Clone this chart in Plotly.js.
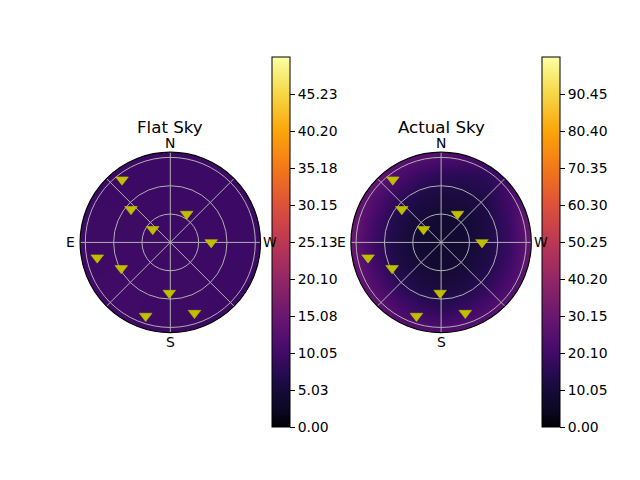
<!DOCTYPE html>
<html><head><meta charset="utf-8">
<script src="https://cdn.plot.ly/plotly-3.0.1.min.js"></script>
<style>html,body{margin:0;padding:0;background:#fff}</style>
</head><body><div id="chart" style="width:640px;height:480px"></div>
<script>
// ---- data ----
const starAzimuth = [37.6, 49.9, 53.3, 330, 270, 101.8, 117.9, 178.9, 161.5, 198.9]; // deg, N=0, E=90
const starZenith  = [83.8, 54.4, 23.2, 34.7, 43.3, 79.0, 58.7, 53.6, 82.2, 79.1];   // deg
const gridAngles = [0, 45, 90, 135, 180, 225, 270, 315];
const compassAngles = [0, 90, 180, 270];
const compassLabels = ['N', 'E', 'S', 'W'];
const zenithRings = [30, 60, 90];
const radialMax = 95.5;

// sky maps sampled on a grid (x: E(-1) .. W(+1), y: S(-1) .. N(+1)), rows from bottom to top
const flatGridX = [-1, -0.5, 0, 0.5, 1];
const flatGridY = [-1, -0.5, 0, 0.5, 1];
const flatSky = [
  [9.8, 9.8, 9.6, 9.5, 9.5],
  [9.8, 10.0, 9.6, 9.5, 9.5],
  [9.6, 9.6, 9.5, 9.5, 9.5],
  [9.5, 9.5, 9.5, 9.5, 9.5],
  [9.5, 9.5, 9.5, 9.5, 9.5]
];
const actualGridX = [-1, -0.75, -0.5, -0.25, 0, 0.25, 0.5, 0.75, 1];
const actualGridY = [-1, -0.75, -0.5, -0.25, 0, 0.25, 0.5, 0.75, 1];
const actualSky = [
  [32, 31, 28, 26, 24.6, 26.5, 28, 30, 31],
  [32, 30, 22.8, 18.2, 15.8, 18.2, 22.8, 28.8, 30],
  [32, 24.3, 17, 12.4, 11, 12.4, 16.5, 23, 29],
  [31, 20.5, 13.1, 10, 8.2, 9.9, 12.8, 19.6, 29.5],
  [30, 18.5, 12.3, 8.6, 7, 8.5, 12, 18, 29],
  [31, 20.5, 13.2, 10, 8.2, 9.1, 12.1, 18.7, 31],
  [32, 24.3, 17, 12.4, 11, 11.2, 13, 20.6, 28],
  [32, 30, 23, 18.2, 15.8, 15, 16, 21, 26],
  [32, 30, 28, 27, 24.6, 23.6, 24.5, 24, 25]
];
const flatMax = 50.25;
const actualMax = 100.5;
const flatTickText = ['0.00', '5.03', '10.05', '15.08', '20.10', '25.13', '30.15', '35.18', '40.20', '45.23'];
const actualTickText = ['0.00', '10.05', '20.10', '30.15', '40.20', '50.25', '60.30', '70.35', '80.40', '90.45'];
const titles = ['Flat Sky', 'Actual Sky'];

// ---- styling ----
const inferno = [
  [0.00, '#000004'], [0.05, '#0c0826'], [0.10, '#160b39'], [0.15, '#280b54'],
  [0.20, '#420a68'], [0.25, '#56106e'], [0.30, '#6a176e'], [0.40, '#932667'],
  [0.50, '#bc3754'], [0.60, '#dd513a'], [0.70, '#f37819'], [0.80, '#fca50a'],
  [0.90, '#f6d746'], [1.00, '#fcffa4']
];
const W = 640, H = 480;
const FONT = 'DejaVu Sans, Liberation Sans, sans-serif';
const boxes = [{x0: 80.1, x1: 260.5}, {x0: 350.9, x1: 531.3}];
const yTop = 152.2, yBot = 332.6;
const R = (yBot - yTop) / 2;
const labelGap = 9.4;
const cbLeft = [271.5, 541.5];
const cbTop = 57.5, cbBottom = 427.3;

function dom(i) {
  return {x: [boxes[i].x0 / W, boxes[i].x1 / W], y: [(H - yBot) / H, (H - yTop) / H]};
}
function polarCfg(i) {
  return {
    domain: dom(i),
    bgcolor: 'rgba(0,0,0,0)',
    radialaxis: {range: [0, radialMax], tickmode: 'array', tickvals: zenithRings, showticklabels: false,
      ticks: '', showline: false, gridcolor: '#b0b0b0', gridwidth: 1},
    angularaxis: {rotation: 90, direction: 'counterclockwise', tickmode: 'array',
      tickvals: gridAngles, showticklabels: false, ticks: '', showline: false,
      gridcolor: '#b0b0b0', gridwidth: 1}
  };
}
function cb(i, ticktext) {
  return {
    x: cbLeft[i] / W, xanchor: 'left', xpad: 0,
    y: (H - cbBottom) / H, yanchor: 'bottom', ypad: 0,
    len: cbBottom - cbTop, lenmode: 'pixels', thickness: 18, thicknessmode: 'pixels',
    outlinecolor: '#000', outlinewidth: 1,
    tickmode: 'array', tickvals: ticktext.map(Number), ticktext: ticktext,
    ticks: 'outside', ticklen: 5, tickwidth: 1, tickcolor: '#000',
    tickfont: {family: FONT, size: 13.9, color: '#000'}
  };
}
// white mask (in subplot-domain units) hiding the heatmap outside the sky circle
function maskPath() {
  const e = 0.015;
  let p = `M${-e},${-e} L${1 + e},${-e} L${1 + e},${1 + e} L${-e},${1 + e} Z M1,0.5`;
  const n = 240;
  for (let k = 1; k <= n; k++) {
    const a = -2 * Math.PI * k / n;
    p += ' L' + (0.5 + 0.5 * Math.cos(a)).toFixed(5) + ',' + (0.5 + 0.5 * Math.sin(a)).toFixed(5);
  }
  return p + ' Z';
}

const starMarker = {symbol: 'triangle-down', size: 11, color: '#bfbf00', line: {width: 0.6, color: '#bfbf00'}};
const traces = [
  {type: 'heatmap', x: flatGridX, y: flatGridY, z: flatSky, xaxis: 'x', yaxis: 'y',
   zmin: 0, zmax: flatMax, colorscale: inferno, zsmooth: 'best', colorbar: cb(0, flatTickText), hoverinfo: 'skip'},
  {type: 'heatmap', x: actualGridX, y: actualGridY, z: actualSky, xaxis: 'x2', yaxis: 'y2',
   zmin: 0, zmax: actualMax, colorscale: inferno, zsmooth: 'best', colorbar: cb(1, actualTickText), hoverinfo: 'skip'},
  {type: 'scatterpolar', subplot: 'polar', r: starZenith, theta: starAzimuth, mode: 'markers',
   marker: starMarker, hoverinfo: 'skip'},
  {type: 'scatterpolar', subplot: 'polar2', r: starZenith, theta: starAzimuth, mode: 'markers',
   marker: starMarker, hoverinfo: 'skip'}
];

const shapes = [];
[['x domain', 'y domain'], ['x2 domain', 'y2 domain']].forEach(([xr, yr]) => {
  shapes.push({type: 'path', xref: xr, yref: yr, path: maskPath(), fillrule: 'evenodd',
    fillcolor: '#ffffff', line: {width: 0}, layer: 'above'});
  shapes.push({type: 'circle', xref: xr, yref: yr, x0: 0, x1: 1, y0: 0, y1: 1,
    line: {color: '#000', width: 1.2}, layer: 'above'});
});

const annotations = [];
titles.forEach((t, i) => {
  const cx = (boxes[i].x0 + boxes[i].x1) / 2, cy = (yTop + yBot) / 2;
  annotations.push({text: t, xref: 'paper', yref: 'paper', x: cx / W, y: (H - 127.5) / H,
    xanchor: 'center', yanchor: 'middle', showarrow: false, font: {family: FONT, size: 16.67, color: '#000'}});
  compassLabels.forEach((lab, k) => {
    const a = compassAngles[k] * Math.PI / 180;
    const px = cx - (R + labelGap) * Math.sin(a);
    const py = cy - (R + labelGap) * Math.cos(a);
    annotations.push({text: lab, xref: 'paper', yref: 'paper', x: px / W, y: (H - py) / H,
      xanchor: 'center', yanchor: 'middle', showarrow: false, font: {family: FONT, size: 13.9, color: '#000'}});
  });
});

const layout = {
  width: W, height: H, margin: {l: 0, r: 0, t: 0, b: 0},
  paper_bgcolor: '#fff', plot_bgcolor: 'rgba(0,0,0,0)', showlegend: false,
  font: {family: FONT, color: '#000'},
  xaxis: {domain: dom(0).x, range: [-1, 1], visible: false, fixedrange: true},
  yaxis: {domain: dom(0).y, range: [-1, 1], visible: false, fixedrange: true},
  xaxis2: {domain: dom(1).x, range: [-1, 1], visible: false, fixedrange: true},
  yaxis2: {domain: dom(1).y, range: [-1, 1], visible: false, fixedrange: true},
  polar: polarCfg(0), polar2: polarCfg(1),
  shapes: shapes,
  annotations: annotations
};
Plotly.newPlot('chart', traces, layout, {staticPlot: true, displayModeBar: false});
</script></body></html>
